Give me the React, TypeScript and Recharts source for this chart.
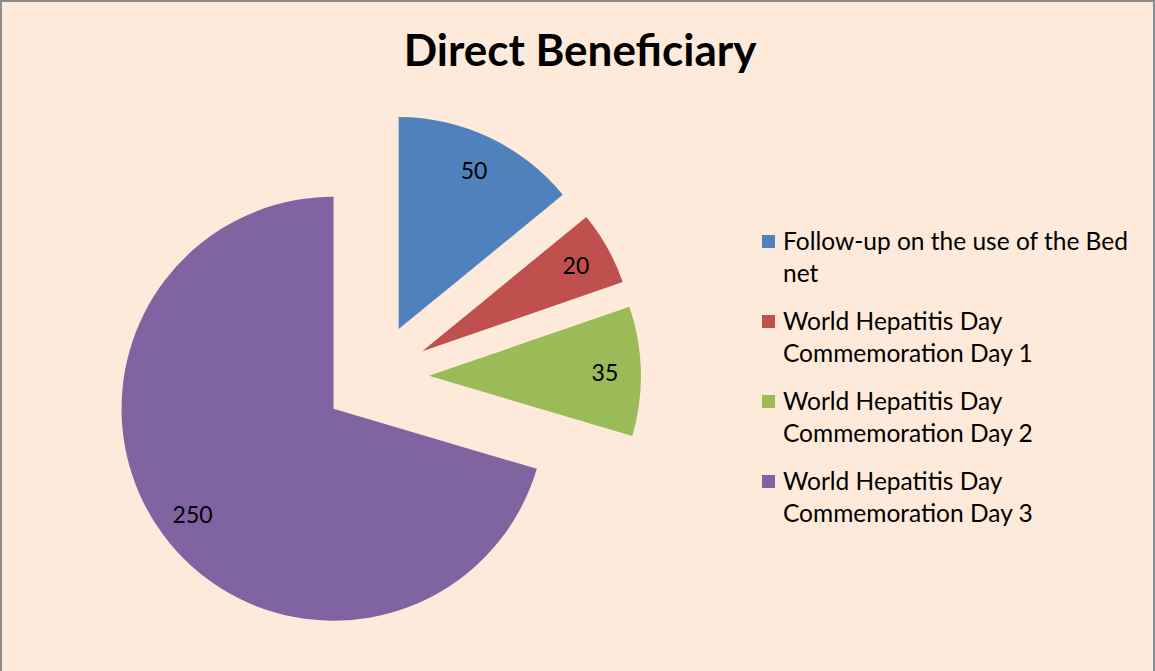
import React from 'react'
import { PieChart, Pie, Cell, Legend, Sector } from 'recharts'

const categories = [
  'Follow-up on the use of the Bed net',
  'World Hepatitis Day Commemoration Day 1',
  'World Hepatitis Day Commemoration Day 2',
  'World Hepatitis Day Commemoration Day 3',
]
const beneficiaries = [50, 20, 35, 250]
const colors = ['#4F81BD', '#C0504D', '#9BBB59', '#8064A2']

const data = categories.map((name, i) => ({ name, value: beneficiaries[i] }))

const FONT = 'Lato, "Open Sans", sans-serif'
const EXPLODE = 53
const RAD = Math.PI / 180

function ExplodedSector(props: any) {
  const { cx, cy, midAngle } = props
  const dx = Math.cos(-midAngle * RAD) * EXPLODE
  const dy = Math.sin(-midAngle * RAD) * EXPLODE
  return <Sector {...props} cx={cx + dx} cy={cy + dy} stroke="none" />
}

function renderLabel(props: any) {
  const { cx, cy, midAngle, outerRadius, value } = props
  const r = EXPLODE + outerRadius * 0.83
  const x = cx + Math.cos(-midAngle * RAD) * r
  const y = cy + Math.sin(-midAngle * RAD) * r
  return (
    <text x={x} y={y} fill="#000" fontSize={23} fontFamily={FONT} textAnchor="middle" dominantBaseline="central">
      {value}
    </text>
  )
}

function LegendList({ payload }: any) {
  return (
    <div style={{ fontFamily: FONT, fontSize: 24.5, lineHeight: '32px', color: '#000' }}>
      {(payload || []).map((p: any, i: number) => (
        <div key={i} style={{ display: 'flex', marginBottom: 16 }}>
          <div style={{ width: 13, height: 13, background: p.color, marginTop: 10, marginRight: 8, flexShrink: 0 }} />
          <div style={{ width: 365 }}>{p.value}</div>
        </div>
      ))}
    </div>
  )
}

export default function App() {
  return (
    <div style={{ position: 'fixed', left: 0, top: 0, width: 1155, height: 671, background: '#FDEADA', boxSizing: 'border-box', borderLeft: '2px solid #8c8c8c', borderTop: '2px solid #8c8c8c', borderRight: '2px solid #8c8c8c', overflow: 'hidden' }}>
      <div style={{ position: 'absolute', left: 0, top: 21, width: 1156, textAlign: 'center', fontFamily: FONT, fontWeight: 700, fontSize: 44, color: '#000' }}>
        Direct Beneficiary
      </div>
      <div style={{ position: 'absolute', left: -2, top: -2 }}>
        <PieChart width={1155} height={671}>
          <Pie
            data={data}
            dataKey="value"
            nameKey="name"
            cx={371}
            cy={372}
            outerRadius={212}
            startAngle={90}
            endAngle={-270}
            shape={ExplodedSector}
            activeShape={ExplodedSector}
            inactiveShape={ExplodedSector}
            label={renderLabel}
            labelLine={false}
            isAnimationActive={false}
            stroke="none"
          >
            {data.map((d, i) => (
              <Cell key={d.name} fill={colors[i]} />
            ))}
          </Pie>
          <Legend
            layout="vertical"
            content={<LegendList />}
            wrapperStyle={{ position: 'absolute', left: 762, top: 225, width: 390, bottom: 'auto', right: 'auto' }}
          />
        </PieChart>
      </div>
    </div>
  )
}
